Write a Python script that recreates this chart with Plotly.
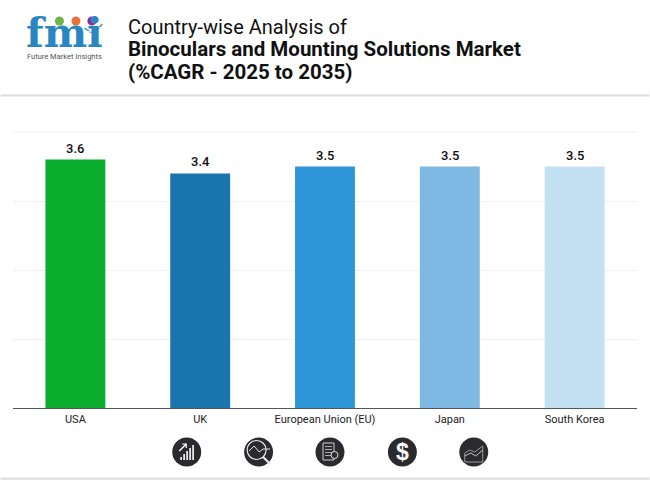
import plotly.graph_objects as go

W, H = 650, 480
L, R, T, B = 12.5, 12.5, 132, 72

countries = ['USA', 'UK', 'European Union (EU)', 'Japan', 'South Korea']
cagr = [3.6, 3.4, 3.5, 3.5, 3.5]
colors = ['#0aad2e', '#1a75ae', '#2f96d9', '#7db9e2', '#c3e1f3']
y_ticks = [0, 1, 2, 3, 4]


# page pixels to paper coordinates, for the header and footer decoration
def px(x):
    return (x - L) / (W - L - R)


def py(y):
    return (H - B - y) / (H - T - B)


def rect(x0, y0, x1, y1, color):
    return dict(type='rect', xref='paper', yref='paper', x0=px(x0), y0=py(y0), x1=px(x1), y1=py(y1),
                fillcolor=color, line=dict(width=0), layer='above')


def circle(cx, cy, r, fill, line_color=None, line_width=0):
    return dict(type='circle', xref='paper', yref='paper', x0=px(cx - r), y0=py(cy - r), x1=px(cx + r), y1=py(cy + r),
                fillcolor=fill, line=dict(width=line_width, color=line_color), layer='above')


def seg(pts, color, width=1.2, fill=None):
    path = 'M ' + ' L '.join('%.4f %.4f' % (px(a), py(b)) for a, b in pts)
    if fill:
        path += ' Z'
    return dict(type='path', xref='paper', yref='paper', path=path, fillcolor=fill,
                line=dict(color=color, width=width), layer='above')


def text(x, y, s, size, color='#111111', family='Roboto', anchor='left', **kw):
    return dict(xref='paper', yref='paper', x=px(x), y=py(y), text=s, showarrow=False, xanchor=anchor,
                yanchor='middle', font=dict(size=size, color=color, family=family), **kw)


fig = go.Figure(go.Bar(
    x=countries,
    y=cagr,
    width=0.48,
    marker=dict(color=colors, line=dict(width=0)),
))

shapes = [rect(0, 94.5, 650, 96.5, '#dcdcdc'), rect(0, 477.5, 650, 480, '#e2e2e2')]

# top gridline sits on the edge of the plot area, so draw it by hand
shapes.append(rect(12.5, 131.5, 637.5, 132.5, '#f1f1f1'))

# logo
logo_blue = '#2a86c0'
shapes += [circle(59, 21, 4.5, '#6fb544'), circle(75.5, 21, 4.5, '#e9713a'), circle(91.5, 21, 4.5, '#8a2f96')]
shapes.append(seg([(84, 28), (90, 32), (96, 31), (102, 24)], logo_blue, 1.2))
for sy in [27, 31, 35, 39, 43]:
    shapes.append(rect(26, sy, 102, sy + 0.8, '#ffffff'))

# footer icons
dark = '#2b2b2f'
icon_x = [186.5, 258.5, 330, 402.5, 474]
icon_y = 452
for cx in icon_x:
    shapes.append(circle(cx, icon_y, 14.5, dark))

# bars and arrow
for i, h in enumerate([3, 6, 9, 12, 15]):
    shapes.append(rect(180 + i * 3, 460 - h, 181.8 + i * 3, 460, '#e8e8e8'))
shapes.append(seg([(179, 451), (186, 444)], '#ffffff', 1.5))
shapes.append(seg([(182, 444), (186, 444), (186, 448)], '#ffffff', 1.2))

# magnifier over a trend line
shapes.append(circle(256.5, 450, 9.5, 'rgba(0,0,0,0)', '#e8e8e8', 1.2))
shapes.append(seg([(263, 457), (270, 464)], '#e8e8e8', 2.2))
shapes.append(seg([(249, 451), (254, 446), (259, 452), (263, 449), (270, 449)], '#e8e8e8', 1))

# report page
shapes.append(seg([(323, 443), (334, 443), (334, 460), (323, 460)], '#cfcfcf', 1, fill='rgba(0,0,0,0)'))
for sy in [446, 449, 452, 455]:
    shapes.append(rect(325, sy, 332, sy + 0.8, '#cfcfcf'))
shapes.append(circle(334.5, 455, 3.5, dark, '#e0e0e0', 1))

# area chart
shapes.append(seg([(465, 462), (465, 453), (470, 450), (475, 452), (483, 446), (483, 462)], '#9a9a9a', 1,
                  fill='rgba(0,0,0,0)'))
shapes.append(seg([(465, 456), (471, 453), (476, 456), (483, 450)], '#c8c8c8', 1))

annotations = [
    text(125.5, 27, 'Country-wise Analysis of', 20, family='Roboto'),
    text(125.5, 49, '<b>Binoculars and Mounting Solutions Market</b>', 20.5),
    text(125.5, 72, '<b>(%CAGR - 2025 to 2035)</b>', 20.5),
    text(64.5, 33, '<b>fmi</b>', 41, color=logo_blue, family='DejaVu Serif', anchor='center', height=36),
    text(64, 56, 'Future Market Insights', 7.5, color='#555555', anchor='center'),
    text(402.5, icon_y, '<b>$</b>', 23, color='#ffffff', family='Liberation Sans', anchor='center'),
]
# value labels sit a little higher than textposition='outside' allows
for name, v in zip(countries, cagr):
    annotations.append(dict(x=name, y=v, text='%.1f' % v, showarrow=False, yanchor='bottom', yshift=2,
                            font=dict(size=13, color='#111111', family='Roboto Medium, Roboto')))

fig.update_layout(
    width=W,
    height=H,
    margin=dict(l=L, r=R, t=T, b=B, pad=0),
    paper_bgcolor='#ffffff',
    plot_bgcolor='#ffffff',
    showlegend=False,
    shapes=shapes,
    annotations=annotations,
    font=dict(family='Roboto', color='#222222'),
    xaxis=dict(
        type='category',
        range=[-0.5, 4.5],
        showgrid=False,
        showline=True,
        linecolor='#555555',
        linewidth=1,
        ticks='',
        ticklabelstandoff=1,
        tickfont=dict(size=11, color='#222222', family='Roboto'),
    ),
    yaxis=dict(
        range=[0, 4],
        tickvals=y_ticks,
        showticklabels=False,
        gridcolor='#f1f1f1',
        gridwidth=1,
        zeroline=False,
        ticks='',
    ),
)

fig.write_html("out.html", config=dict(displayModeBar=False), post_script="document.body.style.margin='0';")
